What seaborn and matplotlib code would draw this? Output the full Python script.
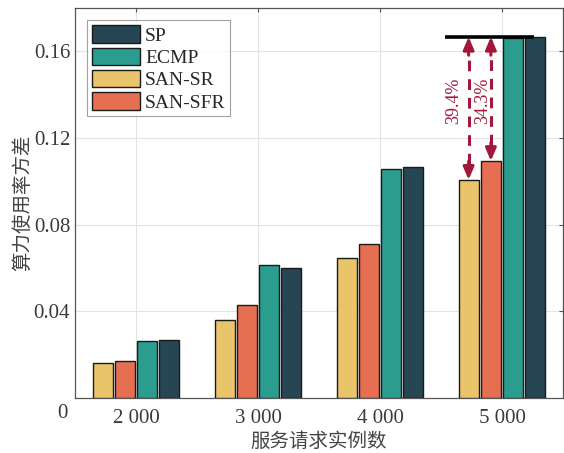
import pandas as pd
import matplotlib
matplotlib.use("Agg")
import matplotlib.pyplot as plt
import seaborn as sns

# data
groups = ['2 000', '3 000', '4 000', '5 000']
sr = [0.0161, 0.0362, 0.0646, 0.1007]
sfr = [0.0170, 0.0431, 0.0709, 0.1094]
ecmp = [0.0263, 0.0612, 0.1057, 0.1662]
sp = [0.0266, 0.0598, 0.1067, 0.1667]
methods = ['SAN-SR', 'SAN-SFR', 'ECMP', 'SP']
legend_order = ['SP', 'ECMP', 'SAN-SR', 'SAN-SFR']
colors = {'SAN-SR': '#e9c46a', 'SAN-SFR': '#e76f51', 'ECMP': '#2a9d8f', 'SP': '#264653'}
pct = ['39.4%', '34.3%']

rows = []
for name, vals in zip(methods, [sr, sfr, ecmp, sp]):
    for g, v in zip(groups, vals):
        rows.append({'group': g, 'method': name, 'value': v})
df = pd.DataFrame(rows)

sns.set_style('white')
fonts = ['Liberation Serif', 'Noto Sans CJK SC']
plt.rcParams['font.family'] = fonts

fig, ax = plt.subplots(figsize=(5.64, 4.53), dpi=100)
fig.subplots_adjust(left=75/564, right=563/564, top=1-8/453, bottom=1-398/453)

sns.barplot(data=df, x='group', y='value', hue='method', hue_order=methods,
            palette=colors, saturation=1, width=0.73, gap=0.1, edgecolor='#1a1a1a',
            linewidth=1.0, ax=ax, zorder=3)

ax.set_xlim(-0.5, 3.5)
ax.set_ylim(0, 0.18)
ax.set_yticks([0.04, 0.08, 0.12, 0.16])
ax.set_yticklabels(['0.04', '0.08', '0.12', '0.16'])
ax.tick_params(axis='both', labelsize=15, colors='#555555', labelcolor='#3a3a3a',
               direction='in', length=3, top=True, right=True)
ax.tick_params(axis='x', pad=8)
ax.grid(True, color='#e3e3e3', linewidth=0.8, zorder=0)
ax.set_axisbelow(True)
for s in ax.spines.values():
    s.set_color('#555555')
    s.set_linewidth(0.9)
ax.text(-0.015, -0.04, '0', transform=ax.transAxes, ha='right', va='center',
        fontsize=15, color='#3a3a3a')

ax.set_xlabel('服务请求实例数', fontsize=14, color='#444444', labelpad=3)
ax.set_ylabel('算力使用率方差', fontsize=14, color='#444444', labelpad=1)

# legend in custom order
handles, labels = ax.get_legend_handles_labels()
hmap = dict(zip(labels, handles))
leg = ax.legend([hmap[k] for k in legend_order], legend_order, loc='upper left',
                bbox_to_anchor=(0.024, 0.968), fontsize=14, frameon=True, fancybox=False,
                edgecolor='#888888', handlelength=2.5, handleheight=1.0,
                handletextpad=0.25, labelspacing=0.15, borderpad=0.25,
                borderaxespad=0)
leg.get_frame().set_linewidth(0.8)

# annotation over the 5 000 group
bars = {m: c for m, c in zip(methods, ax.containers)}
top = sp[3]
b_sr = bars['SAN-SR'][3]
b_sp = bars['SP'][3]
x_left = b_sr.get_x() - 0.11
x_right = b_sp.get_x() + b_sp.get_width() * 0.45
ax.plot([x_left, x_right], [top, top], color='black', linewidth=2.6, zorder=5,
        solid_capstyle='butt')

red = '#a3173a'
text_off = [-0.123, -0.066]
for i, m in enumerate(['SAN-SR', 'SAN-SFR']):
    b = bars[m][3]
    xc = b.get_x() + b.get_width() / 2
    yb = b.get_height()
    head = 0.0075
    ax.plot([xc, xc], [yb + head, top - head], color=red, linewidth=2.2,
            linestyle=(0, (3.5, 2.6)), zorder=5)
    ax.annotate('', xy=(xc, top), xytext=(xc, top - head - 0.001),
                arrowprops=dict(arrowstyle='-|>,head_length=0.75,head_width=0.32',
                                color=red, lw=2.2, shrinkA=0, shrinkB=0), zorder=6)
    ax.annotate('', xy=(xc, yb), xytext=(xc, yb + head + 0.001),
                arrowprops=dict(arrowstyle='-|>,head_length=0.75,head_width=0.32',
                                color=red, lw=2.2, shrinkA=0, shrinkB=0), zorder=6)
    ax.text(xc + text_off[i], 0.137, pct[i], rotation=90, ha='center', va='center',
            fontsize=13, color=red, zorder=6)

plt.savefig('out.png', dpi=100)
